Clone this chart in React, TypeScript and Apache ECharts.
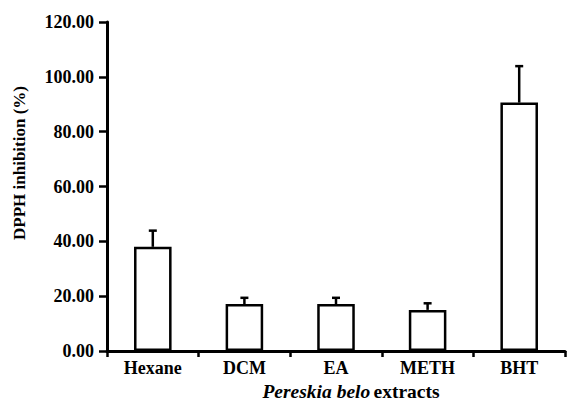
import React, { useEffect, useRef } from "react";
import * as echarts from "echarts";

const categories = ["Hexane", "DCM", "EA", "METH", "BHT"];
const meanValues = [38.0, 17.1, 17.1, 15.0, 90.6];
const errorValues = [5.9, 2.3, 2.3, 2.4, 13.3];
const yTicks = { min: 0, max: 120, interval: 20 };

const FONT = "'Liberation Serif', 'Times New Roman', serif";

export default function App() {
  const ref = useRef<HTMLDivElement>(null);
  useEffect(() => {
    if (!ref.current) return;
    const chart = echarts.init(ref.current, null, { renderer: "svg" });
    const errData = categories.map((c, i) => [i, meanValues[i], meanValues[i] + errorValues[i]]);
    chart.setOption({
      animation: false,
      backgroundColor: "#ffffff",
      grid: { left: 107, right: 2, top: 22, bottom: 51, containLabel: false },
      xAxis: {
        type: "category",
        data: categories,
        axisLine: { lineStyle: { color: "#000", width: 3 } },
        axisTick: { show: true, length: 6, lineStyle: { color: "#000", width: 2.5 } },
        axisLabel: { color: "#000", fontFamily: FONT, fontWeight: "bold", fontSize: 18, margin: 8 },
        splitLine: { show: false },
      },
      yAxis: {
        type: "value",
        min: yTicks.min,
        max: yTicks.max,
        interval: yTicks.interval,
        axisLine: { show: true, lineStyle: { color: "#000", width: 3 } },
        axisTick: { show: true, length: 8, lineStyle: { color: "#000", width: 2.5 } },
        axisLabel: {
          color: "#000",
          fontFamily: FONT,
          fontWeight: "bold",
          fontSize: 18,
          margin: 13,
          formatter: (v: number) => v.toFixed(2),
        },
        splitLine: { show: false },
      },
      series: [
        {
          type: "bar",
          data: meanValues,
          barWidth: "41%",
          itemStyle: { color: "#ffffff", borderColor: "#000", borderWidth: 2.5 },
          z: 2,
        },
        {
          type: "custom",
          data: errData,
          z: 3,
          renderItem: (params: any, api: any) => {
            const x = api.value(0);
            const base = api.coord([x, api.value(1)]);
            const top = api.coord([x, api.value(2)]);
            const half = 4;
            return {
              type: "group",
              children: [
                {
                  type: "line",
                  shape: { x1: base[0], y1: base[1], x2: top[0], y2: top[1] },
                  style: { stroke: "#000", lineWidth: 2.5 },
                },
                {
                  type: "line",
                  shape: { x1: top[0] - half, y1: top[1], x2: top[0] + half, y2: top[1] },
                  style: { stroke: "#000", lineWidth: 2.5 },
                },
              ],
            };
          },
        },
      ],
      graphic: [
        {
          type: "text",
          x: 19,
          y: 163,
          rotation: Math.PI / 2,
          style: {
            text: "DPPH inhibition (%)",
            fill: "#000",
            font: `bold 17px ${FONT}`,
            textAlign: "center",
            textVerticalAlign: "middle",
          },
        },
        {
          type: "text",
          x: 351,
          y: 391,
          style: {
            text: "{i|Pereskia belo} {b|extracts}",
            textAlign: "center",
            textVerticalAlign: "middle",
            rich: {
              i: { fontFamily: FONT, fontStyle: "italic", fontWeight: "bold", fontSize: 19.5, fill: "#000", color: "#000" },
              b: { fontFamily: FONT, fontWeight: "bold", fontSize: 19.5, fill: "#000", color: "#000" },
            },
          },
        },
      ],
    });
    return () => chart.dispose();
  }, []);
  return (
    <div
      ref={ref}
      style={{ position: "absolute", left: 0, top: 0, width: 567, height: 402 }}
    />
  );
}
